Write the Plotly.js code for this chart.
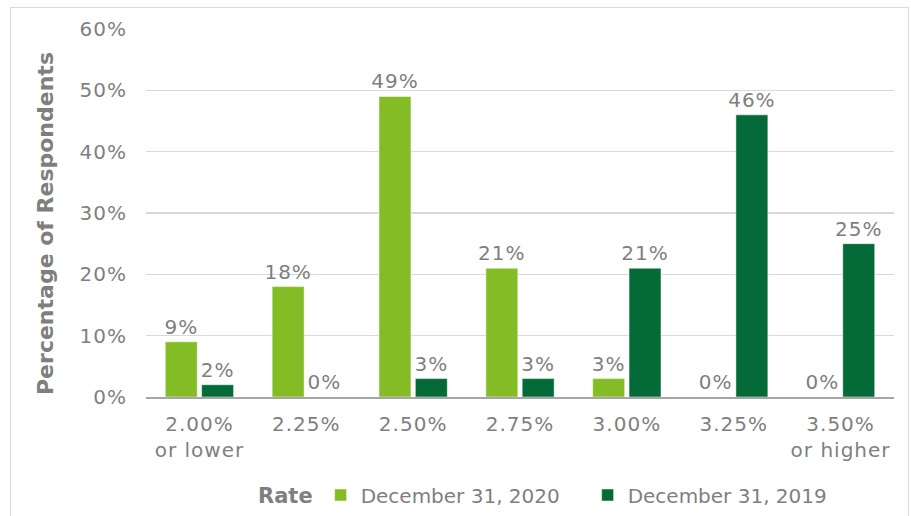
<!DOCTYPE html>
<html>
<head>
<meta charset="utf-8">
<script src="https://cdn.plot.ly/plotly-3.0.1.min.js"></script>
<style>
  html, body { margin: 0; padding: 0; background: #fff; }
  #wrap { position: relative; width: 911px; height: 516px; overflow: hidden; }
  #chart { position: absolute; left: 0; top: 0; width: 911px; height: 516px; }
  #frame { position: absolute; left: 10px; top: 7px; width: 899px; height: 540px; border: 1px solid #d9d9d9; box-sizing: border-box; pointer-events: none; }
  #chart .xtick text, #chart .ytick text, #chart .bartext { letter-spacing: 1px; }
</style>
</head>
<body>
<div id="wrap">
  <div id="chart"></div>
  <div id="frame"></div>
</div>
<script>
const categories = ["2.00%<br>or lower", "2.25%", "2.50%", "2.75%", "3.00%", "3.25%", "3.50%<br>or higher"];
const series2020 = [9, 18, 49, 21, 3, 0, 0];
const series2019 = [2, 0, 3, 3, 21, 46, 25];
const seriesNames = ["December 31, 2020", "December 31, 2019"];
const yTicks = [0, 10, 20, 30, 40, 50, 60];
const yTitle = "Percentage of Respondents";

const FONT = "DejaVu Sans, Verdana, sans-serif";
const GRAY = "#7f7f7f";

const traces = [
  {
    type: "bar", name: seriesNames[0], x: categories, y: series2020,
    marker: { color: "#84bc26", line: { color: "#ffffff", width: 0.5 } },
    text: series2020.map(v => v + "%"), textposition: "outside", constraintext: "none",
    textfont: { family: FONT, size: 20, color: GRAY }, cliponaxis: false,
    hoverinfo: "none"
  },
  {
    type: "bar", name: seriesNames[1], x: categories, y: series2019,
    marker: { color: "#046b38", line: { color: "#ffffff", width: 0.5 } },
    text: series2019.map(v => v + "%"), textposition: "outside", constraintext: "none",
    textfont: { family: FONT, size: 20, color: GRAY }, cliponaxis: false,
    hoverinfo: "none"
  }
];

const layout = {
  width: 911, height: 516,
  margin: { l: 146, r: 17, t: 29, b: 119, autoexpand: false },
  paper_bgcolor: "#ffffff", plot_bgcolor: "#ffffff",
  font: { family: FONT, color: GRAY, size: 20 },
  barmode: "group", bargap: 0.32, bargroupgap: 0.12,
  showlegend: true,
  xaxis: {
    type: "category", tickfont: { family: FONT, size: 20, color: GRAY },
    showline: true, linecolor: "#a6a6a6", linewidth: 1.5,
    ticks: "", showgrid: false, ticklabelstandoff: 8
  },
  yaxis: {
    range: [0, 60], tickvals: yTicks, ticktext: yTicks.map(v => v + "%"),
    tickfont: { family: FONT, size: 20, color: GRAY },
    showgrid: true, gridcolor: "#d9d9d9", gridwidth: 1.5,
    zeroline: false, showline: false, ticks: "", ticklabelstandoff: 18
  },
  annotations: [{
    text: "<b>" + yTitle + "</b>", textangle: -90, showarrow: false,
    xref: "paper", yref: "paper", x: (45 - 146) / 748, y: (397 - 224) / 368,
    xanchor: "center", yanchor: "middle",
    font: { family: FONT, size: 22, color: GRAY }
  }],
  legend: {
    orientation: "h", xref: "container", yref: "container",
    x: 256 / 911, xanchor: "left", y: 21 / 516, yanchor: "middle",
    font: { family: FONT, size: 20, color: GRAY },
    title: { text: "<b>Rate</b>", font: { family: FONT, size: 21, color: GRAY }, side: "left" },
    itemwidth: 30, traceorder: "normal", entrywidth: 222
  }
};

Plotly.newPlot("chart", traces, layout, { staticPlot: true, displayModeBar: false });
</script>
</body>
</html>
